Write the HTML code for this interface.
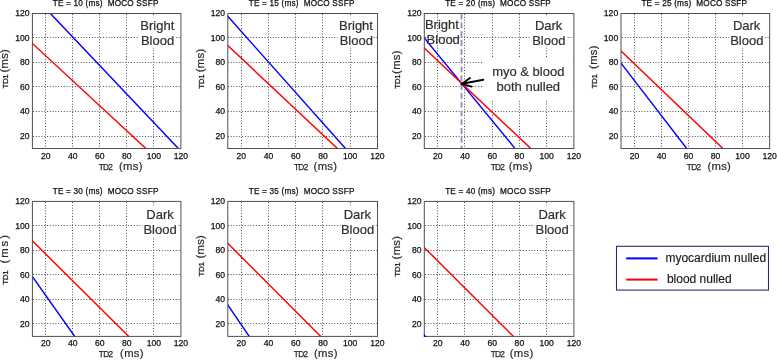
<!DOCTYPE html>
<html><head><meta charset="utf-8"><title>MOCO SSFP</title>
<style>
html,body{margin:0;padding:0;background:#fff;}
body{width:778px;height:361px;overflow:hidden;font-family:"Liberation Sans",sans-serif;}
svg{display:block;will-change:transform;}
svg text{font-family:"Liberation Sans",sans-serif;}
.tk{font-size:8.6px;fill:#111;stroke:#111;stroke-width:0.25px;}
.ti{white-space:pre;font-size:8.2px;fill:#111;stroke:#111;stroke-width:0.25px;letter-spacing:0.2px;}
.s1{font-size:8px;fill:#1a1a1a;stroke:#1a1a1a;stroke-width:0.28px;letter-spacing:-0.4px;}
.s2{font-size:8.3px;fill:#2a2a2a;stroke:#2a2a2a;stroke-width:0.25px;letter-spacing:-0.7px;}
.ms{font-size:11.3px;fill:#2a2a2a;stroke:#2a2a2a;stroke-width:0.2px;letter-spacing:0.3px;}
.big{font-size:13px;fill:#303030;stroke:#303030;stroke-width:0.2px;}
.lg{font-size:12.0px;fill:#1a1a1a;stroke:#1a1a1a;stroke-width:0.15px;}
.grid{stroke:#505050;stroke-width:1;stroke-dasharray:1 1.8;fill:none;}
.fr{stroke:#505050;stroke-width:1;fill:none;}
.bl{stroke:#0000ff;stroke-width:1.45;fill:none;}
.rd{stroke:#ff0000;stroke-width:1.45;fill:none;}
.wb{fill:#fff;stroke:none;}
</style></head><body>
<svg width="778" height="361" viewBox="0 0 778 361">
<rect width="778" height="361" fill="#fff"/>
<g>
<clipPath id="c0"><rect x="32.4" y="13.5" width="148.5" height="135.0"/></clipPath>
<path class="grid" d="M45.5 14V148.5M72.5 14V148.5M99.5 14V148.5M126.5 14V148.5M153.5 14V148.5M33 136.5H180.9M33 111.5H180.9M33 86.5H180.9M33 62.5H180.9M33 37.5H180.9"/>
<rect class="wb" x="138.7" y="17" width="35.9" height="30.5"/>
<g clip-path="url(#c0)"><path class="rd" d="M30.2 41.46L148.1 150.54"/><path class="bl" d="M48.34 11.32L180.46 150.68"/></g>
<rect class="fr" x="32.4" y="13.5" width="148.5" height="135.0"/>
<text class="tk" x="45.80" y="158.70" text-anchor="middle">20</text><text class="tk" x="72.80" y="158.70" text-anchor="middle">40</text><text class="tk" x="99.80" y="158.70" text-anchor="middle">60</text><text class="tk" x="126.80" y="158.70" text-anchor="middle">80</text><text class="tk" x="153.80" y="158.70" text-anchor="middle">100</text><text class="tk" x="180.80" y="158.70" text-anchor="middle">120</text>
<text class="tk" x="29.60" y="138.93" text-anchor="end">20</text><text class="tk" x="29.60" y="114.38" text-anchor="end">40</text><text class="tk" x="29.60" y="89.84" text-anchor="end">60</text><text class="tk" x="29.60" y="65.29" text-anchor="end">80</text><text class="tk" x="29.60" y="40.75" text-anchor="end">100</text><text class="tk" x="29.60" y="16.20" text-anchor="end">120</text>
<text class="ti" x="105.65" y="6.40" text-anchor="middle" xml:space="preserve">TE = 10 (ms)  MOCO SSFP</text>
<text class="s2" x="98.70" y="169.60">TD2</text><text class="ms" x="119.00" y="169.60">(ms)</text>
<text class="s1" transform="translate(8.35 88.50) rotate(-90)">TD1</text><text class="ms" transform="translate(8.35 72.60) rotate(-90)">(ms)</text>
<text class="big" x="140.30" y="29.70">Bright</text><text class="big" x="140.90" y="44.70">Blood</text>
</g>
<g>
<clipPath id="c1"><rect x="227.8" y="13.5" width="149.7" height="135.0"/></clipPath>
<path class="grid" d="M241.5 14V148.5M268.5 14V148.5M295.5 14V148.5M322.5 14V148.5M350.5 14V148.5M228 136.5H377.5M228 111.5H377.5M228 86.5H377.5M228 62.5H377.5M228 37.5H377.5"/>
<rect class="wb" x="337.5" y="17" width="35.7" height="30.5"/>
<g clip-path="url(#c1)"><path class="rd" d="M225.61 43.55L339.59 150.55"/><path class="bl" d="M225.81 14.06L347.49 150.74"/></g>
<rect class="fr" x="227.8" y="13.5" width="149.7" height="135.0"/>
<text class="tk" x="241.31" y="158.70" text-anchor="middle">20</text><text class="tk" x="268.53" y="158.70" text-anchor="middle">40</text><text class="tk" x="295.75" y="158.70" text-anchor="middle">60</text><text class="tk" x="322.96" y="158.70" text-anchor="middle">80</text><text class="tk" x="350.18" y="158.70" text-anchor="middle">100</text><text class="tk" x="377.40" y="158.70" text-anchor="middle">120</text>
<text class="tk" x="225.00" y="138.93" text-anchor="end">20</text><text class="tk" x="225.00" y="114.38" text-anchor="end">40</text><text class="tk" x="225.00" y="89.84" text-anchor="end">60</text><text class="tk" x="225.00" y="65.29" text-anchor="end">80</text><text class="tk" x="225.00" y="40.75" text-anchor="end">100</text><text class="tk" x="225.00" y="16.20" text-anchor="end">120</text>
<text class="ti" x="301.65" y="6.40" text-anchor="middle" xml:space="preserve">TE = 15 (ms)  MOCO SSFP</text>
<text class="s2" x="294.00" y="169.60">TD2</text><text class="ms" x="313.60" y="169.60">(ms)</text>
<text class="s1" transform="translate(203.75 88.70) rotate(-90)">TD1</text><text class="ms" transform="translate(203.75 72.30) rotate(-90)">(ms)</text>
<text class="big" x="339.00" y="29.70">Bright</text><text class="big" x="339.70" y="44.70">Blood</text>
</g>
<g>
<clipPath id="c2"><rect x="424.3" y="13.5" width="149.6" height="135.0"/></clipPath>
<path class="grid" d="M437.5 14V148.5M464.5 14V148.5M492.5 14V148.5M519.5 14V148.5M546.5 14V148.5M425 136.5H573.9M425 111.5H573.9M425 86.5H573.9M425 62.5H573.9M425 37.5H573.9"/>
<rect class="wb" x="531.2" y="17" width="35.6" height="30.5"/>
<rect class="wb" x="483.7" y="57.7" width="89.5" height="41.8"/>
<path d="M461.5 13.7V148.4" stroke="#8a8aaa" stroke-width="1.7" stroke-dasharray="5.8 3" fill="none"/>
<g clip-path="url(#c2)"><path class="bl" d="M422.4 35.58L516.9 150.82"/><path class="rd" d="M422.12 46.04L532.98 150.56"/></g>
<rect class="fr" x="424.3" y="13.5" width="149.6" height="135.0"/>
<text class="tk" x="437.80" y="158.70" text-anchor="middle">20</text><text class="tk" x="465.00" y="158.70" text-anchor="middle">40</text><text class="tk" x="492.20" y="158.70" text-anchor="middle">60</text><text class="tk" x="519.40" y="158.70" text-anchor="middle">80</text><text class="tk" x="546.60" y="158.70" text-anchor="middle">100</text><text class="tk" x="573.80" y="158.70" text-anchor="middle">120</text>
<text class="tk" x="421.50" y="138.93" text-anchor="end">20</text><text class="tk" x="421.50" y="114.38" text-anchor="end">40</text><text class="tk" x="421.50" y="89.84" text-anchor="end">60</text><text class="tk" x="421.50" y="65.29" text-anchor="end">80</text><text class="tk" x="421.50" y="40.75" text-anchor="end">100</text><text class="tk" x="421.50" y="16.20" text-anchor="end">120</text>
<text class="ti" x="498.10" y="6.40" text-anchor="middle" xml:space="preserve">TE = 20 (ms)  MOCO SSFP</text>
<text class="s2" x="490.70" y="169.60">TD2</text><text class="ms" x="508.70" y="169.60">(ms)</text>
<text class="s1" transform="translate(400.25 88.70) rotate(-90)">TD1</text><text class="ms" transform="translate(400.25 73.90) rotate(-90)">(ms)</text>
<text class="big" x="424.90" y="28.70">Bright</text><text class="big" x="426.60" y="43.90">Blood</text><text class="big" x="534.90" y="29.70">Dark</text><text class="big" x="532.20" y="44.70">Blood</text>
<text class="big" x="528.3" y="76.1" text-anchor="middle">myo &amp; blood</text><text class="big" x="528.3" y="91.4" text-anchor="middle">both nulled</text>
<path d="M483.3 79.7L462.2 83.7M470 78L461.8 83.8L471.6 86.6" stroke="#000" stroke-width="1.9" fill="none" stroke-linecap="round" stroke-linejoin="miter"/>
</g>
<g>
<clipPath id="c3"><rect x="621.0" y="13.5" width="148.65" height="135.0"/></clipPath>
<path class="grid" d="M634.5 14V148.5M661.5 14V148.5M688.5 14V148.5M715.5 14V148.5M742.5 14V148.5M622 136.5H769.6M622 111.5H769.6M622 86.5H769.6M622 62.5H769.6M622 37.5H769.6"/>
<rect class="wb" x="729.2" y="17" width="35.6" height="30.5"/>
<g clip-path="url(#c3)"><path class="rd" d="M618.83 49.03L725.07 150.57"/><path class="bl" d="M619.17 60.72L688.53 150.88"/></g>
<rect class="fr" x="621.0" y="13.5" width="148.65" height="135.0"/>
<text class="tk" x="634.41" y="158.70" text-anchor="middle">20</text><text class="tk" x="661.44" y="158.70" text-anchor="middle">40</text><text class="tk" x="688.47" y="158.70" text-anchor="middle">60</text><text class="tk" x="715.50" y="158.70" text-anchor="middle">80</text><text class="tk" x="742.52" y="158.70" text-anchor="middle">100</text><text class="tk" x="769.55" y="158.70" text-anchor="middle">120</text>
<text class="tk" x="618.20" y="138.93" text-anchor="end">20</text><text class="tk" x="618.20" y="114.38" text-anchor="end">40</text><text class="tk" x="618.20" y="89.84" text-anchor="end">60</text><text class="tk" x="618.20" y="65.29" text-anchor="end">80</text><text class="tk" x="618.20" y="40.75" text-anchor="end">100</text><text class="tk" x="618.20" y="16.20" text-anchor="end">120</text>
<text class="ti" x="694.33" y="6.40" text-anchor="middle" xml:space="preserve">TE = 25 (ms)  MOCO SSFP</text>
<text class="s2" x="686.85" y="169.60">TD2</text><text class="ms" x="707.40" y="169.60">(ms)</text>
<text class="s1" transform="translate(596.95 88.40) rotate(-90)">TD1</text><text class="ms" transform="translate(596.95 68.90) rotate(-90)">(ms)</text>
<text class="big" x="732.90" y="29.70">Dark</text><text class="big" x="730.20" y="44.70">Blood</text>
</g>
<g>
<clipPath id="c4"><rect x="32.4" y="201.4" width="148.5" height="135.0"/></clipPath>
<path class="grid" d="M45.5 202V336.4M72.5 202V336.4M99.5 202V336.4M126.5 202V336.4M153.5 202V336.4M33 323.5H180.9M33 299.5H180.9M33 274.5H180.9M33 250.5H180.9M33 225.5H180.9"/>
<rect class="wb" x="142.5" y="205.5" width="35.5" height="32.4"/>
<g clip-path="url(#c4)"><path class="rd" d="M30.27 238.79L130.83 338.51"/><path class="bl" d="M30.67 274.15L76.43 338.85"/></g>
<rect class="fr" x="32.4" y="201.4" width="148.5" height="135.0"/>
<text class="tk" x="45.80" y="345.70" text-anchor="middle">20</text><text class="tk" x="72.80" y="345.70" text-anchor="middle">40</text><text class="tk" x="99.80" y="345.70" text-anchor="middle">60</text><text class="tk" x="126.80" y="345.70" text-anchor="middle">80</text><text class="tk" x="153.80" y="345.70" text-anchor="middle">100</text><text class="tk" x="180.80" y="345.70" text-anchor="middle">120</text>
<text class="tk" x="29.60" y="326.83" text-anchor="end">20</text><text class="tk" x="29.60" y="302.28" text-anchor="end">40</text><text class="tk" x="29.60" y="277.74" text-anchor="end">60</text><text class="tk" x="29.60" y="253.19" text-anchor="end">80</text><text class="tk" x="29.60" y="228.65" text-anchor="end">100</text><text class="tk" x="29.60" y="204.10" text-anchor="end">120</text>
<text class="ti" x="105.65" y="194.30" text-anchor="middle" xml:space="preserve">TE = 30 (ms)  MOCO SSFP</text>
<text class="s2" x="98.85" y="356.90">TD2</text><text class="ms" x="120.10" y="356.90">(ms)</text>
<text class="s1" transform="translate(8.35 284.70) rotate(-90)">TD1</text><text class="ms" style="letter-spacing:2px" transform="translate(8.35 263.60) rotate(-90)">(ms)</text>
<text class="big" x="146.30" y="218.60">Dark</text><text class="big" x="143.40" y="234.20">Blood</text>
</g>
<g>
<clipPath id="c5"><rect x="227.8" y="201.4" width="149.7" height="135.0"/></clipPath>
<path class="grid" d="M241.5 202V336.4M268.5 202V336.4M295.5 202V336.4M322.5 202V336.4M350.5 202V336.4M228 323.5H377.5M228 299.5H377.5M228 274.5H377.5M228 250.5H377.5M228 225.5H377.5"/>
<rect class="wb" x="340.6" y="205.5" width="34.3" height="32.4"/>
<g clip-path="url(#c5)"><path class="rd" d="M225.68 241.18L322.82 338.52"/><path class="bl" d="M226.11 302.42L250.89 338.88"/></g>
<rect class="fr" x="227.8" y="201.4" width="149.7" height="135.0"/>
<text class="tk" x="241.31" y="345.70" text-anchor="middle">20</text><text class="tk" x="268.53" y="345.70" text-anchor="middle">40</text><text class="tk" x="295.75" y="345.70" text-anchor="middle">60</text><text class="tk" x="322.96" y="345.70" text-anchor="middle">80</text><text class="tk" x="350.18" y="345.70" text-anchor="middle">100</text><text class="tk" x="377.40" y="345.70" text-anchor="middle">120</text>
<text class="tk" x="225.00" y="326.83" text-anchor="end">20</text><text class="tk" x="225.00" y="302.28" text-anchor="end">40</text><text class="tk" x="225.00" y="277.74" text-anchor="end">60</text><text class="tk" x="225.00" y="253.19" text-anchor="end">80</text><text class="tk" x="225.00" y="228.65" text-anchor="end">100</text><text class="tk" x="225.00" y="204.10" text-anchor="end">120</text>
<text class="ti" x="301.65" y="194.30" text-anchor="middle" xml:space="preserve">TE = 35 (ms)  MOCO SSFP</text>
<text class="s2" x="293.85" y="356.90">TD2</text><text class="ms" x="314.00" y="356.90">(ms)</text>
<text class="s1" transform="translate(203.75 276.40) rotate(-90)">TD1</text><text class="ms" transform="translate(203.75 258.60) rotate(-90)">(ms)</text>
<text class="big" x="343.65" y="218.60">Dark</text><text class="big" x="340.90" y="234.20">Blood</text>
</g>
<g>
<clipPath id="c6"><rect x="424.3" y="201.4" width="149.6" height="135.0"/></clipPath>
<path class="grid" d="M437.5 202V336.4M464.5 202V336.4M492.5 202V336.4M519.5 202V336.4M546.5 202V336.4M425 323.5H573.9M425 299.5H573.9M425 274.5H573.9M425 250.5H573.9M425 225.5H573.9"/>
<rect class="wb" x="534.3" y="205.5" width="35.0" height="32.4"/>
<g clip-path="url(#c6)"><path class="rd" d="M422.18 245.38L515.62 338.52"/></g>
<rect class="fr" x="424.3" y="201.4" width="149.6" height="135.0"/>
<path d="M423.9 333.4L426.4 336.9H423.9Z" fill="#0000ff"/>
<text class="tk" x="437.80" y="345.70" text-anchor="middle">20</text><text class="tk" x="465.00" y="345.70" text-anchor="middle">40</text><text class="tk" x="492.20" y="345.70" text-anchor="middle">60</text><text class="tk" x="519.40" y="345.70" text-anchor="middle">80</text><text class="tk" x="546.60" y="345.70" text-anchor="middle">100</text><text class="tk" x="573.80" y="345.70" text-anchor="middle">120</text>
<text class="tk" x="421.50" y="326.83" text-anchor="end">20</text><text class="tk" x="421.50" y="302.28" text-anchor="end">40</text><text class="tk" x="421.50" y="277.74" text-anchor="end">60</text><text class="tk" x="421.50" y="253.19" text-anchor="end">80</text><text class="tk" x="421.50" y="228.65" text-anchor="end">100</text><text class="tk" x="421.50" y="204.10" text-anchor="end">120</text>
<text class="ti" x="498.10" y="194.30" text-anchor="middle" xml:space="preserve">TE = 40 (ms)  MOCO SSFP</text>
<text class="s2" x="490.70" y="356.90">TD2</text><text class="ms" x="509.80" y="356.90">(ms)</text>
<text class="s1" transform="translate(400.25 276.70) rotate(-90)">TD1</text><text class="ms" transform="translate(400.25 259.40) rotate(-90)">(ms)</text>
<text class="big" x="538.40" y="218.60">Dark</text><text class="big" x="535.50" y="234.20">Blood</text>
</g>
<rect x="616.5" y="246.3" width="152" height="43.8" fill="#fff" stroke="#2b2b78" stroke-width="1.1"/>
<path d="M626.2 258.4H657.6" stroke="#0000ff" stroke-width="2" fill="none"/><path d="M626.2 279.6H657.6" stroke="#ff0000" stroke-width="2" fill="none"/>
<text class="lg" x="665.4" y="261.9">myocardium nulled</text><text class="lg" x="666.9" y="282.9">blood nulled</text>
</svg>
</body></html>
